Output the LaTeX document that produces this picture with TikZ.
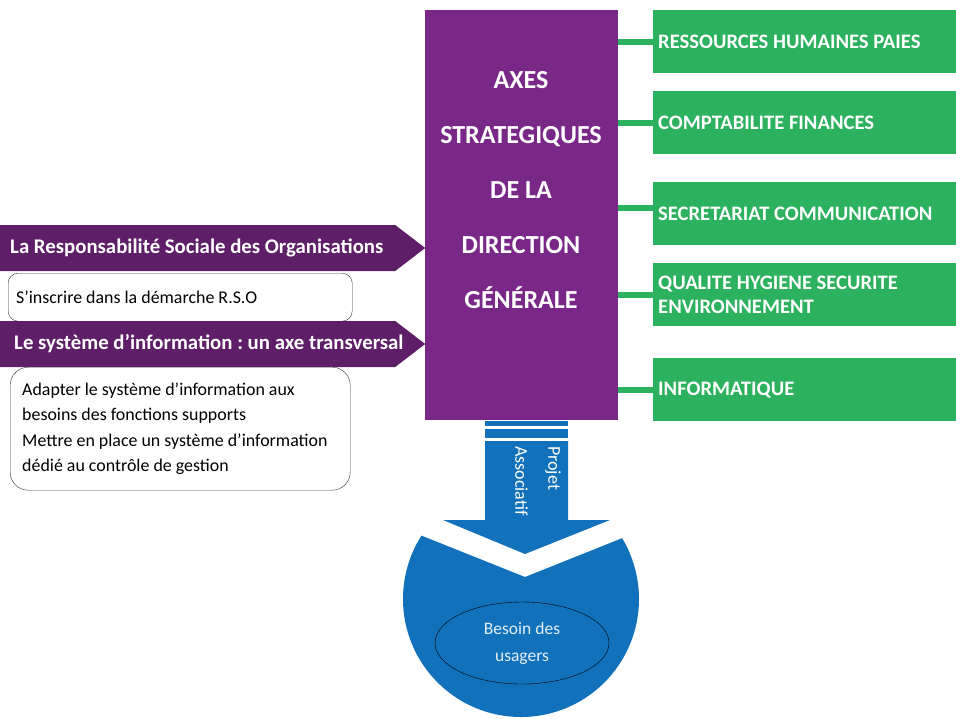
\documentclass[tikz,border=0pt]{standalone}
\usepackage{fontspec}
\setmainfont{Carlito}
\frenchspacing
\usetikzlibrary{positioning, shapes.symbols, shapes.geometric}
\definecolor{axepurple}{RGB}{121,40,136}
\definecolor{orgpurple}{RGB}{94,31,104}
\definecolor{servicegreen}{RGB}{44,178,94}
\definecolor{projblue}{RGB}{17,113,186}

\newcommand{\axetext}[2]{\makebox[385pt][l]{\hspace*{#1}#2}}

\tikzset{
    servicebox/.style={fill=servicegreen, text=white, anchor=north west,
        font=\bfseries\fontsize{20.6}{24}\selectfont, minimum width=303pt,
        minimum height=63pt, text width=293pt, inner xsep=5pt, align=left,
        execute at begin node={\spaceskip=0pt\xspaceskip=0pt\relax}},
    orgarrow/.style={shape=signal, signal to=east, signal pointer angle=75,
        fill=orgpurple, text=white, anchor=west, minimum height=46pt,
        minimum width=425pt, font=\bfseries\fontsize{20.8}{22}\selectfont,
        inner xsep=5pt},
    notebox/.style={draw=black!80, fill=white, anchor=north west, align=left,
        font=\fontsize{17.9}{25.5}\selectfont,
        execute at begin node={\spaceskip=0pt\xspaceskip=0pt\relax}},
    link/.style={draw=servicegreen, line width=6pt}
}

\begin{document}
\begin{tikzpicture}[x=1pt, y=-1pt]
    \path[fill=white, use as bounding box] (0,0) rectangle (956,718);

    % Main box
    \node[fill=axepurple, anchor=north west, minimum width=193pt,
        minimum height=410pt, inner sep=0pt] (axes) at (425,10) {};
    \node[text=white, align=center, font=\bfseries\fontsize{26}{55}\selectfont]
        (axestitle) at (521,190) {AXES\\STRATEGIQUES\\DE LA\\DIRECTION\\GÉNÉRALE};

    % Support functions
    \node[servicebox] (rh) at (653,10) {RESSOURCES HUMAINES PAIES};
    \node[servicebox] (compta) at (653,91) {COMPTABILITE FINANCES};
    \node[servicebox] (secret) at (653,182) {SECRETARIAT COMMUNICATION};
    \node[servicebox] (qhse) at (653,263) {QUALITE HYGIENE SECURITE\\ENVIRONNEMENT};
    \node[servicebox] (info) at (653,358) {INFORMATIQUE};

    \foreach \s in {rh, compta, qhse, info}
        \draw[link] (axes.east |- \s.west) -- (\s.west);
    \coordinate (secretin) at ([yshift=6pt]secret.west);
    \draw[link] (axes.east |- secretin) -- (secretin);

    % Left axes
    \node[orgarrow] (rso) at (0,248)
        {\axetext{5pt}{La Responsabilité Sociale des Organisations}};
    \node[notebox, minimum width=344pt, minimum height=48pt, text width=328pt,
        inner xsep=8pt, rounded corners=10pt] (rsonote) at (8,273)
        {S’inscrire dans la démarche R.S.O};
    \node[orgarrow] (si) at (0,344)
        {\axetext{9pt}{Le système d’information : un axe transversal}};
    \node[notebox, minimum width=340pt, minimum height=123pt, text width=316pt,
        inner xsep=12pt, rounded corners=18pt] (sinote) at (10,367)
        {Adapter le système d’information aux\\besoins des fonctions supports\\
         Mettre en place un système d’information\\dédié au contrôle de gestion};

    % Associative project arrow
    \fill[projblue] (485,421) rectangle (568,426);
    \fill[projblue] (485,429) rectangle (568,438);
    \fill[projblue] (485,441) -- (568,441) -- (568,520) -- (610,520)
        -- (525,554) -- (443,520) -- (485,520) -- cycle;
    \node[rotate=-90, anchor=north west, inner sep=0pt, align=left, text=white,
        font=\fontsize{18}{33}\selectfont] (projet) at (561,446) {Projet\\Associatif};

    % Users
    \begin{scope}
        \clip (390,523) -- (525,577) -- (660,523) -- (660,730) -- (390,730) -- cycle;
        \fill[projblue] (521,599) circle [radius=118pt];
    \end{scope}
    \node[draw=black, ellipse, minimum width=174pt, minimum height=82pt,
        align=center, text=white!88!projblue, font=\fontsize{17.5}{27}\selectfont]
        (usagers) at (522,643) {Besoin des\\usagers};
\end{tikzpicture}
\end{document}
